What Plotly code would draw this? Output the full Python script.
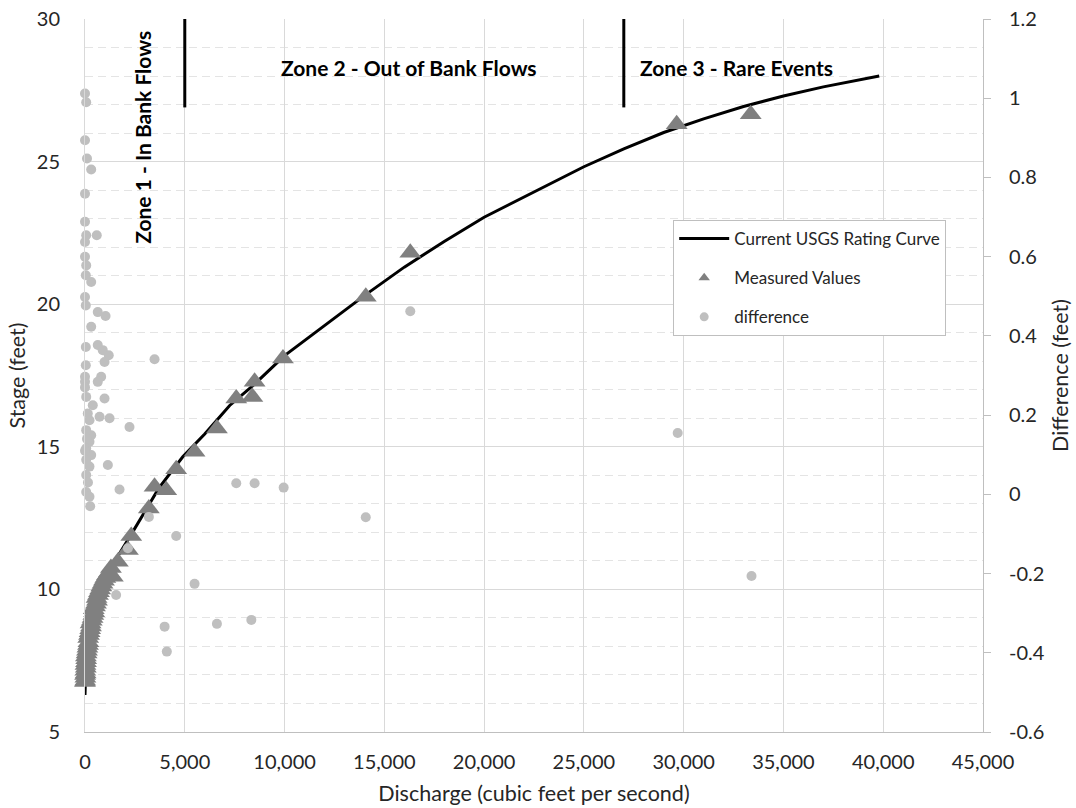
import plotly.graph_objects as go

# ---------------- data ----------------
# Current USGS rating curve (discharge cfs, stage ft)
curve_q = [0, 30, 120, 380, 760, 1500, 2250, 3000, 3700, 4900, 6000, 7250, 8500,
           10000, 12000, 14000, 16000, 18000, 20000, 22500, 25000, 27000, 29000,
           31000, 33000, 35000, 37000, 39800]
curve_h = [6.3, 7.0, 8.0, 9.0, 10.0, 11.0, 11.85, 12.75, 13.55, 14.65, 15.45, 16.45, 17.2,
           18.2, 19.25, 20.3, 21.3, 22.2, 23.05, 23.95, 24.82, 25.45, 26.02,
           26.5, 26.93, 27.3, 27.62, 28.0]

# Measured values (discharge cfs, stage ft)
meas_q = [0, 10, 20, 5, 30, 15, 40, 25, 50, 60, 45, 80, 100, 120, 150, 170, 160, 200,
          230, 260, 300, 280, 340, 380, 420, 460, 440, 500, 550, 600, 580, 650, 700,
          760, 820, 880, 950, 1020, 1100, 1200, 1300, 1395, 1645, 2150, 2317, 3200,
          3485, 4070, 4570, 5490, 6610, 7580, 8385, 8500, 9920, 14070, 16300, 29650,
          33360]
meas_h = [6.75, 6.8, 6.9, 7.0, 7.05, 7.15, 7.25, 7.35, 7.45, 7.55, 7.65, 7.75, 7.85,
          7.95, 8.05, 8.15, 8.3, 8.4, 8.5, 8.6, 8.7, 8.8, 8.9, 9.0, 9.1, 9.2, 9.3, 9.4,
          9.5, 9.6, 9.7, 9.8, 9.9, 10.0, 10.1, 10.2, 10.3, 10.4, 10.5, 10.6, 10.75,
          10.44, 10.97, 11.38, 11.87, 12.84, 13.6, 13.48, 14.21, 14.83, 15.64, 16.69,
          16.75, 17.28, 18.1, 20.26, 21.8, 26.31, 26.66]

# Difference (feet), secondary axis
diff_q = [0, 60, 0, 100, 310, 0, 0, 60, 590, 0, 0, 60, 40, 310, 0, 40, 640, 1030,
          310, 40, 640, 890, 1190, 980, 3485, 40, 0, 810, 0, 640, 60, 980, 390, 140,
          730, 1230, 2230, 225, 60, 310, 225, 60, 310, 60, 225, 1145, 60, 1730, 60,
          225, 260, 0, 100, 0, 150, 3200, 4570, 2150, 1560, 5490, 3990, 4100, 6610,
          8335, 7580, 8500, 9955, 14070, 16300, 29700, 33400]
diff_v = [1.012, 0.99, 0.894, 0.848, 0.82, 0.759, 0.688, 0.654, 0.654, 0.637, 0.60,
          0.578, 0.553, 0.536, 0.498, 0.477, 0.46, 0.45, 0.423, 0.372, 0.377, 0.364,
          0.351, 0.334, 0.341, 0.326, 0.297, 0.297, 0.284, 0.284, 0.246, 0.242, 0.225,
          0.204, 0.196, 0.192, 0.17, 0.187, 0.162, 0.149, 0.133, 0.116, 0.099, 0.087,
          0.07, 0.074, 0.049, 0.012, 0.006, -0.006, -0.03, 0.27, 0.14, 0.11, 0.03,
          -0.057, -0.105, -0.136, -0.254, -0.226, -0.334, -0.397, -0.327, -0.317,
          0.028, 0.028, 0.017, -0.058, 0.462, 0.155, -0.206]

zone_bounds = [5000, 27000]
zone1_label = "Zone 1 - In Bank Flows"
zone2_label = "Zone 2 - Out of Bank Flows"
zone3_label = "Zone 3 - Rare Events"

right_tickvals = [-0.6, -0.4, -0.2, 0, 0.2, 0.4, 0.6, 0.8, 1.0, 1.2]
right_ticktext = ["-0.6", "-0.4", "-0.2", "0", "0.2", "0.4", "0.6", "0.8", "1", "1.2"]

# ---------------- figure ----------------
FONT = "Lato"
TXT = "#262626"
LINE_C = "#000000"
TRI_C = "#808080"
DOT_C = "#bfbfbf"

fig = go.Figure()
fig.add_trace(go.Scatter(
    x=curve_q, y=curve_h, mode="lines", name="Current USGS Rating Curve",
    line=dict(color=LINE_C, width=3), showlegend=False, cliponaxis=False))
fig.add_trace(go.Scatter(
    x=meas_q, y=meas_h, mode="markers", name="Measured Values",
    marker=dict(symbol="triangle-up", size=19, color=TRI_C),
    showlegend=False, cliponaxis=False))
fig.add_trace(go.Scatter(
    x=diff_q, y=diff_v, mode="markers", name="difference", yaxis="y2",
    marker=dict(symbol="circle", size=10, color=DOT_C),
    showlegend=False, cliponaxis=False))

# legend entries (smaller symbols, like the original legend)
fig.add_trace(go.Scatter(x=[None], y=[None], mode="lines", name="Current USGS Rating Curve",
                         line=dict(color=LINE_C, width=3), legendgroup="a"))
fig.add_trace(go.Scatter(x=[None], y=[None], mode="markers", name="Measured Values",
                         marker=dict(symbol="triangle-up", size=10, color=TRI_C),
                         legendgroup="b"))
fig.add_trace(go.Scatter(x=[None], y=[None], mode="markers", name="difference",
                         marker=dict(symbol="circle", size=9, color=DOT_C),
                         legendgroup="c"))

shapes = []
for zb in zone_bounds:
    shapes.append(dict(type="line", xref="x", yref="y", x0=zb, x1=zb, y0=26.9, y1=30,
                       line=dict(color="#000000", width=3)))

ZF = dict(family=FONT, size=21, color="#000000")
annotations = [
    dict(text="<b>%s</b>" % zone1_label, xref="x", yref="y", x=2880, y=25.85,
         textangle=-90, showarrow=False, font=ZF),
    dict(text="<b>%s</b>" % zone2_label, xref="x", yref="y", x=16250, y=28.3,
         showarrow=False, font=ZF),
    dict(text="<b>%s</b>" % zone3_label, xref="x", yref="y", x=32650, y=28.3,
         showarrow=False, font=ZF),
]

fig.update_layout(
    width=1076, height=808,
    margin=dict(l=85, r=93, t=19, b=76, autoexpand=False),
    paper_bgcolor="white", plot_bgcolor="white",
    font=dict(family=FONT, size=20, color=TXT),
    showlegend=True,
    legend=dict(x=0.655, y=0.718, xanchor="left", yanchor="top",
                bordercolor="#bfbfbf", borderwidth=1, bgcolor="white",
                font=dict(family=FONT, size=17, color=TXT),
                traceorder="grouped", tracegroupgap=14, itemwidth=50),
    xaxis=dict(range=[0, 45000], dtick=5000, tick0=0, tickformat=",",
               automargin=False,
               showgrid=True, gridcolor="#d9d9d9", gridwidth=1,
               showline=True, linecolor="#bfbfbf", linewidth=1,
               zeroline=False, ticks="", ticklabelstandoff=12,
               tickfont=dict(size=20, color=TXT),
               title=dict(text="Discharge (cubic feet per second)", standoff=13,
                          font=dict(size=21.5, color=TXT))),
    yaxis=dict(range=[5, 30], dtick=5, tick0=5, automargin=False,
               showgrid=True, gridcolor="#d9d9d9", gridwidth=1,
               minor=dict(dtick=1, showgrid=True, gridcolor="#e4e4e4",
                          griddash="8px,5px", gridwidth=1),
               showline=True, linecolor="#d9d9d9", linewidth=1,
               zeroline=False, ticks="", ticklabelstandoff=20,
               tickfont=dict(size=20, color=TXT),
               title=dict(text="Stage (feet)", standoff=5,
                          font=dict(size=21.5, color=TXT))),
    yaxis2=dict(range=[-0.6, 1.2], overlaying="y", side="right", automargin=False,
                tickvals=right_tickvals, ticktext=right_ticktext,
                showgrid=False, zeroline=False,
                showline=True, linecolor="#bfbfbf", linewidth=1,
                ticks="outside", ticklen=7, tickcolor="#bfbfbf",
                ticklabelstandoff=14,
                tickfont=dict(size=20, color=TXT),
                title=dict(text="Difference (feet)", standoff=9,
                           font=dict(size=21.5, color=TXT))),
    shapes=shapes,
    annotations=annotations,
)

fig.write_html("out.html")
